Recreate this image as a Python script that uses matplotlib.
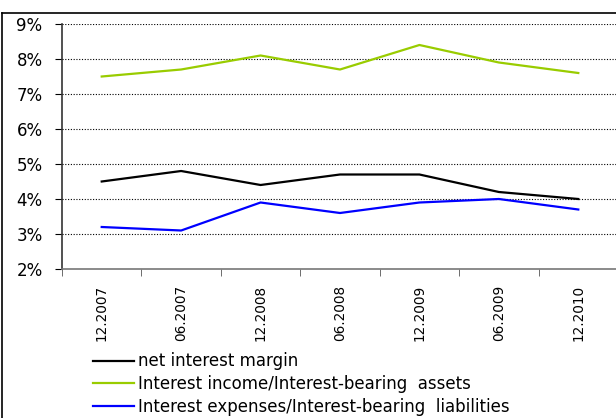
import numpy as np
import matplotlib.pyplot as plt
from matplotlib.lines import Line2D
from matplotlib.ticker import PercentFormatter

periods = ["12.2007", "06.2007", "12.2008", "06.2008", "12.2009", "06.2009", "12.2010"]
net_margin = [4.5, 4.8, 4.4, 4.7, 4.7, 4.2, 4.0]
income_assets = [7.5, 7.7, 8.1, 7.7, 8.4, 7.9, 7.6]
expenses_liab = [3.2, 3.1, 3.9, 3.6, 3.9, 4.0, 3.7]

plt.rcParams['font.family'] = ['DejaVu Sans']

W, H = 616, 418
fig = plt.figure(figsize=(W / 100, H / 100), dpi=100)

# outer frame (left + top)
fig.add_artist(Line2D([1.5 / W, 1.5 / W], [0, (H - 13) / H], color='black', lw=1.2, transform=fig.transFigure))
fig.add_artist(Line2D([1.5 / W, 1], [(H - 13) / H, (H - 13) / H], color='black', lw=1.2, transform=fig.transFigure))

ax = fig.add_axes([62 / W, (H - 269) / H, (618 - 62) / W, (269 - 24) / H])

x = np.arange(len(periods))
ax.plot(x, net_margin, color='black', lw=1.6, label='net interest margin')
ax.plot(x, income_assets, color='#99CC00', lw=1.6, label='Interest income/Interest-bearing  assets')
ax.plot(x, expenses_liab, color='#0000FF', lw=1.6, label='Interest expenses/Interest-bearing  liabilities')

ax.set_xlim(-0.5, len(periods) - 0.5)
ax.set_ylim(2, 9)
ax.set_yticks(range(2, 10))
ax.yaxis.set_major_formatter(PercentFormatter(decimals=0))
for v in range(3, 10):
    ax.axhline(v, color='black', lw=0.8, ls=(0, (1, 1.5)), zorder=0)

ax.set_xticks(x)
ax.set_xticklabels(periods, rotation=90, fontsize=9.8)
ax.set_xticks(np.arange(-0.5, len(periods)), minor=True)
ax.tick_params(axis='x', which='major', length=0, pad=11.5)
ax.tick_params(axis='x', which='minor', length=5, color='#555555', direction='out')
ax.tick_params(axis='y', length=5, direction='out', labelsize=12, pad=9)

for s in ['top', 'right']:
    ax.spines[s].set_visible(False)
ax.spines['left'].set_color('#333333')
ax.spines['bottom'].set_color('#777777')
ax.spines['left'].set_linewidth(1.2)
ax.spines['bottom'].set_linewidth(1.2)

fig.legend(loc='upper left', bbox_to_anchor=(93 / W, (H - 352.5) / H), frameon=False,
           fontsize=12, borderpad=0, borderaxespad=0, handlelength=2.45,
           handletextpad=0.24, labelspacing=0.27)

fig.savefig('out.png', dpi=100)
